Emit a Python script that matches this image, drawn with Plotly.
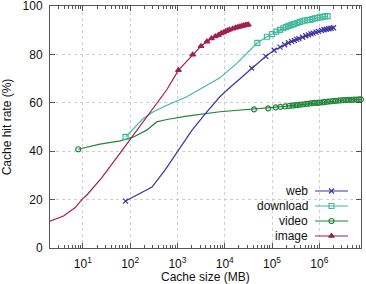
import plotly.graph_objects as go

# ---------------- data (cache size in MB, hit rate in %) ----------------
web_x = [80, 290, 560, 1050, 2000, 3900, 7900, 12000, 20000,
         37000, 74000, 111000, 148000, 185000, 222000, 259000, 296000, 333000,
         370000, 444000, 518000, 592000, 666000, 740000, 851000, 962000,
         1110000, 1258000, 1406000, 1591000, 1776000, 2000000]
web_y = [19.4, 25.2, 32.5, 40.5, 48.5, 55.5, 62.5, 65.8, 69.6,
         74.3, 79.2, 81.7, 83.0, 84.0, 84.8, 85.4, 85.8, 86.2,
         86.5, 87.1, 87.7, 88.1, 88.5, 88.8, 89.2, 89.5,
         89.9, 90.2, 90.4, 90.6, 90.8, 91.0]
web_marks = [0] + list(range(9, len(web_x)))

download_x = [80, 118, 190, 310, 600, 1580, 3000, 7900, 18000, 35000,
              49000, 78000, 100000, 123000, 147000, 172000, 196000, 221000,
              245000, 270000, 294000, 343000, 392000, 441000, 490000, 564000,
              637000, 711000, 809000, 907000, 1030000, 1176000, 1323000, 1500000]
download_y = [45.9, 49.4, 53.5, 56.3, 59.0, 62.5, 65.5, 70.3, 76.3, 82.1,
              84.8, 87.3, 88.4, 89.4, 90.1, 90.8, 91.3, 91.7,
              92.0, 92.3, 92.6, 93.0, 93.4, 93.7, 94.0, 94.2,
              94.3, 94.6, 94.9, 95.1, 95.3, 95.5, 95.7, 95.8]
download_marks = [0] + list(range(10, len(download_x)))

video_x = [8, 23, 62, 118, 224, 250, 290, 363, 600, 1580, 7900,
           41700, 83000, 120000, 151000, 190000, 230000, 270000, 310000, 350000,
           400000, 460000, 530000, 610000, 700000, 800000, 900000, 1000000,
           1150000, 1300000, 1500000, 1700000, 1950000, 2200000, 2500000,
           2850000, 3250000, 3700000, 4200000, 4800000, 5400000, 6100000,
           6900000, 7600000]
video_y = [40.8, 42.9, 44.3, 45.9, 48.7, 49.5, 50.4, 52.1, 53.1, 54.5, 56.3,
           57.3, 57.7, 58.1, 58.3, 58.5, 58.7, 58.85, 59.0, 59.1,
           59.25, 59.4, 59.55, 59.7, 59.85, 59.95, 60.0, 60.1,
           60.2, 60.35, 60.5, 60.6, 60.7, 60.8, 60.9,
           61.0, 61.1, 61.15, 61.2, 61.25, 61.3, 61.35,
           61.4, 61.4]
video_marks = [0] + list(range(11, len(video_x)))

image_x = [2, 3.9, 6.9, 9.5, 12, 25, 72, 118, 263, 600,
           1050, 2100, 3150, 4200, 5250, 6300, 7350, 8400, 9450, 10500,
           11550, 12600, 14700, 16800, 18900, 21000, 23100, 25200, 27300,
           29400, 31500]
image_y = [11.1, 13.2, 16.7, 20.0, 21.8, 29.0, 41.1, 46.8, 55.8, 65.5,
           73.5, 79.9, 83.4, 85.3, 86.6, 87.4, 88.0, 88.7, 89.1, 89.6,
           89.9, 90.2, 90.6, 91.0, 91.3, 91.5, 91.7, 91.9, 92.05,
           92.2, 92.3]
image_marks = list(range(10, len(image_x)))

series_names = ["web", "download", "video", "image"]

x_tickvals = [10, 100, 1000, 10000, 100000, 1000000]
x_ticktext = ["10<sup>1</sup>", "10<sup>2</sup>", "10<sup>3</sup>",
              "10<sup>4</sup>", "10<sup>5</sup>", "10<sup>6</sup>"]
y_tickvals = [0, 20, 40, 60, 80, 100]

# ---------------- styles ----------------
colors = {"web": "#3d33a3", "download": "#3fbb9c", "video": "#22843b", "image": "#a0204f"}
symbols = {"web": "x-thin-open", "download": "square-open",
           "video": "circle-open", "image": "triangle-up"}
msize = {"web": 5, "download": 5, "video": 5, "image": 5}

data = {
    "web": (web_x, web_y, web_marks),
    "download": (download_x, download_y, download_marks),
    "video": (video_x, video_y, video_marks),
    "image": (image_x, image_y, image_marks),
}

fig = go.Figure()
draw_order = ["video", "download", "web", "image"]
for name in draw_order:
    xs, ys, marks = data[name]
    c = colors[name]
    fig.add_trace(go.Scatter(x=xs, y=ys, mode="lines",
                             line=dict(color=c, width=1.2),
                             showlegend=False, hoverinfo="skip", cliponaxis=False))
    fig.add_trace(go.Scatter(x=[xs[i] for i in marks], y=[ys[i] for i in marks],
                             mode="markers",
                             marker=dict(symbol=symbols[name], size=msize[name], color=c,
                                         line=dict(color=c, width=1.2)),
                             showlegend=False, hoverinfo="skip", cliponaxis=False))

# ---------------- custom gnuplot-style key (pixel coordinates on overlay axes) ----------------
key_y = [191, 206, 221, 236]
for name, ky in zip(series_names, key_y):
    c = colors[name]
    fig.add_trace(go.Scatter(x=[315, 348], y=[ky, ky], mode="lines",
                             line=dict(color=c, width=1.2), xaxis="x2", yaxis="y2",
                             showlegend=False, hoverinfo="skip"))
    fig.add_trace(go.Scatter(x=[331.5], y=[ky], mode="markers",
                             marker=dict(symbol=symbols[name], size=msize[name], color=c,
                                         line=dict(color=c, width=1.2)),
                             xaxis="x2", yaxis="y2", showlegend=False, hoverinfo="skip"))
    fig.add_annotation(x=310, y=ky, xref="x2", yref="y2", text=name, showarrow=False,
                       xanchor="right", yanchor="middle",
                       font=dict(size=12, color="#111"))

# x-axis title placed below the tick labels
fig.add_annotation(x=0.5, y=-0.118, xref="paper", yref="paper", text="Cache size (MB)",
                   showarrow=False, xanchor="center", yanchor="middle",
                   font=dict(size=12, color="#111"))

FONT = "Liberation Sans, Arial, sans-serif"
axis_common = dict(showline=True, linecolor="#555", linewidth=1, mirror="ticks",
                   ticks="inside", tickcolor="#555", ticklen=5, tickwidth=1,
                   showgrid=True, gridcolor="#cfcfcf", griddash="dot", gridwidth=1,
                   zeroline=False, automargin=False, ticklabeloverflow="allow",
                   tickfont=dict(size=12, color="#111", family=FONT))

fig.update_layout(
    width=366, height=284,
    margin=dict(l=50, r=5, t=6, b=36),
    paper_bgcolor="white", plot_bgcolor="white",
    font=dict(family=FONT, size=12, color="#111"),
    xaxis=dict(type="log", range=[0.305, 6.882], tickmode="array",
               tickvals=x_tickvals, ticktext=x_ticktext,
               minor=dict(dtick="D1", ticks="inside", ticklen=3, tickcolor="#555",
                          showgrid=False),
               ticklabelstandoff=5,
               **axis_common),
    yaxis=dict(range=[0, 100], tickmode="array", tickvals=y_tickvals,
               title=dict(text="Cache hit rate (%)", font=dict(size=12), standoff=8),
               ticklabelstandoff=4,
               **axis_common),
    xaxis2=dict(overlaying="x", range=[50, 361], visible=False, fixedrange=True),
    yaxis2=dict(overlaying="y", range=[248, 6], visible=False, fixedrange=True),
    showlegend=False,
)

fig.write_html("out.html")
